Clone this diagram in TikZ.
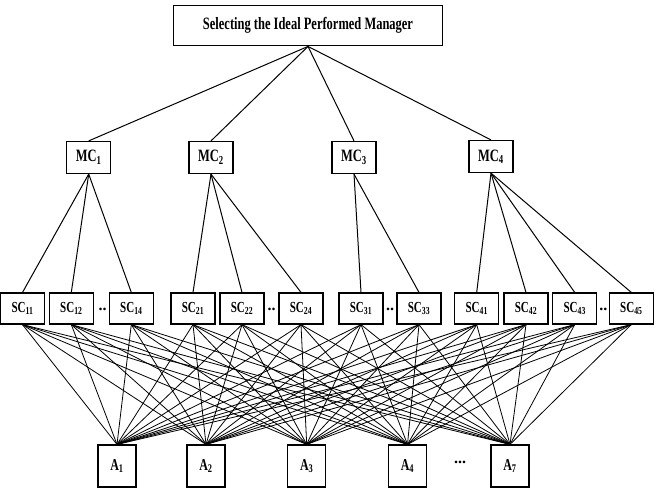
\documentclass[tikz,border=0pt]{standalone}
\usepackage{fontspec}
\setmainfont{Liberation Serif}
\usepackage{graphicx}

\newcommand{\nar}[1]{\scalebox{0.72}[1]{#1}}
\newcommand{\lab}[2]{\nar{\bfseries #1\textsubscript{#2}}}

\tikzset{
  goalbox/.style={draw, line width=0.9pt, minimum width=202pt, minimum height=30.5pt, inner sep=0pt, font=\fontsize{13}{15}\selectfont},
  mainbox/.style={draw, line width=0.9pt, minimum width=33pt, minimum height=24pt, inner sep=0pt, font=\fontsize{13}{15}\selectfont},
  subbox/.style={draw, line width=0.9pt, minimum width=33pt, minimum height=23.25pt, inner sep=0pt, font=\fontsize{11.5}{13}\selectfont},
  altbox/.style={draw, line width=0.9pt, minimum width=28.5pt, minimum height=31.5pt, inner sep=0pt, font=\fontsize{12.5}{14}\selectfont},
  gap/.style={inner sep=0pt, font=\fontsize{12}{14}\selectfont\bfseries}
}

\begin{document}
\begin{tikzpicture}[x=0.75pt, y=-0.75pt]
\useasboundingbox (0,0) rectangle (661,501);

% goal
\node[goalbox] (goal) at (308,25.5) {\nar{\bfseries Selecting the Ideal Performed Manager}};

% main criteria
\node[mainbox] (mc1) at (88.7,157.5) {\lab{MC}{1}};
\node[mainbox] (mc2) at (211,157.5) {\lab{MC}{2}};
\node[mainbox] (mc3) at (354,157.5) {\lab{MC}{3}};
\node[mainbox] (mc4) at (491,156.5) {\lab{MC}{4}};

% sub criteria
\node[subbox] (sc11) at (22.5,308.5) {\lab{SC}{11}};
\node[subbox] (sc12) at (71.3,308.5) {\lab{SC}{12}};
\node[subbox] (sc14) at (131.3,308.5) {\lab{SC}{14}};
\node[subbox] (sc21) at (193,308.5) {\lab{SC}{21}};
\node[subbox] (sc22) at (242,308.5) {\lab{SC}{22}};
\node[subbox] (sc24) at (301,308.5) {\lab{SC}{24}};
\node[subbox] (sc31) at (361,308.5) {\lab{SC}{31}};
\node[subbox] (sc33) at (419,308.5) {\lab{SC}{33}};
\node[subbox] (sc41) at (476.7,308.5) {\lab{SC}{41}};
\node[subbox] (sc42) at (526,308.5) {\lab{SC}{42}};
\node[subbox] (sc43) at (574.7,308.5) {\lab{SC}{43}};
\node[subbox] (sc45) at (631.3,308.5) {\lab{SC}{45}};
\node[gap] (d1) at (102.7,309) {..};
\node[gap] (d2) at (271.7,309) {..};
\node[gap] (d3) at (390,309) {..};
\node[gap] (d4) at (603.3,309) {..};

% alternatives
\node[altbox] (a1) at (117,466) {\lab{A}{1}};
\node[altbox] (a2) at (206,466) {\lab{A}{2}};
\node[altbox] (a3) at (306.7,466) {\lab{A}{3}};
\node[altbox] (a4) at (407.5,466) {\lab{A}{4}};
\node[altbox] (a7) at (510,466) {\lab{A}{7}};
\node[gap] (d5) at (460,462) {...};

\begin{scope}[every edge/.style={draw, line width=0.75pt}]
 \foreach \m in {mc1,mc2,mc3,mc4}
  \path (goal.south) edge (\m.north);
 \foreach \s in {sc11,sc12,sc14}
  \path (mc1.south) edge (\s.north);
 \foreach \s in {sc21,sc22,sc24}
  \path (mc2.south) edge (\s.north);
 \foreach \s in {sc31,sc33}
  \path (mc3.south) edge (\s.north);
 \foreach \s in {sc41,sc42,sc43,sc45}
  \path (mc4.south) edge (\s.north);
\end{scope}
\begin{scope}[every edge/.style={draw, line width=0.6pt}]
 \foreach \s in {sc11,sc12,sc14,sc21,sc22,sc24,sc31,sc33,sc41,sc42,sc43,sc45}
  \foreach \a in {a1,a2,a3,a4,a7}
   \path (\s.south) edge (\a.north);
\end{scope}
\end{tikzpicture}
\end{document}
